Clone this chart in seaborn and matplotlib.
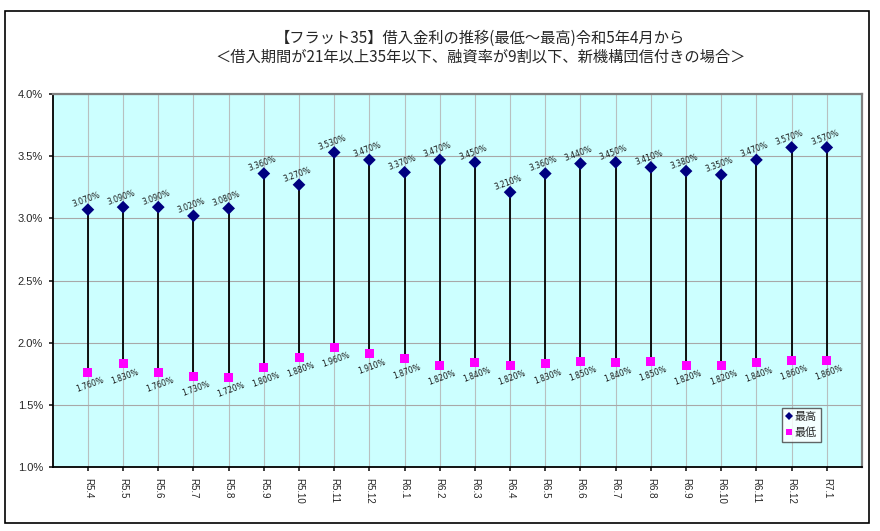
import pandas as pd
import seaborn as sns
import matplotlib.pyplot as plt
from matplotlib.patches import Rectangle
from matplotlib.ticker import FuncFormatter, MultipleLocator

# データ(令和5年4月～令和7年1月)
months = ["R5.4", "R5.5", "R5.6", "R5.7", "R5.8", "R5.9", "R5.10", "R5.11", "R5.12",
          "R6.1", "R6.2", "R6.3", "R6.4", "R6.5", "R6.6", "R6.7", "R6.8", "R6.9",
          "R6.10", "R6.11", "R6.12", "R7.1"]
rate_high = [3.07, 3.09, 3.09, 3.02, 3.08, 3.36, 3.27, 3.53, 3.47,
             3.37, 3.47, 3.45, 3.21, 3.36, 3.44, 3.45, 3.41, 3.38,
             3.35, 3.47, 3.57, 3.57]
rate_low = [1.76, 1.83, 1.76, 1.73, 1.72, 1.80, 1.88, 1.96, 1.91,
            1.87, 1.82, 1.84, 1.82, 1.83, 1.85, 1.84, 1.85, 1.82,
            1.82, 1.84, 1.86, 1.86]

title1 = "【フラット35】借入金利の推移(最低～最高)令和5年4月から"
title2 = "＜借入期間が21年以上35年以下、融資率が9割以下、新機構団信付きの場合＞"

df = pd.DataFrame({
    "月": months * 2,
    "金利": rate_high + rate_low,
    "種別": ["最高"] * len(months) + ["最低"] * len(months),
})

sns.set_theme(style="white")
plt.rcParams["font.family"] = ["Noto Sans CJK JP", "DejaVu Sans"]

fig = plt.figure(figsize=(8.8, 5.31), dpi=100)
ax = fig.add_axes([0.0599, 0.1205, 0.9196, 0.7025])
ax.set_facecolor("#CCFFFF")

# 高低線
ax.vlines(months, rate_low, rate_high, color="black", lw=1.3, zorder=2)

sns.scatterplot(
    data=df, x="月", y="金利", hue="種別", style="種別",
    hue_order=["最高", "最低"], style_order=["最高", "最低"],
    palette={"最高": "#000080", "最低": "#FF00FF"},
    markers={"最高": "D", "最低": "s"},
    s=42, linewidth=0, ax=ax, zorder=3,
)

# データラベル
for i, m in enumerate(months):
    ax.annotate(f"{rate_high[i]:.3f}%", (m, rate_high[i]), xytext=(-1.5, 7),
                textcoords="offset points", ha="center", va="center",
                rotation=20, fontsize=5.5, family="DejaVu Sans", color="#1a1a1a")
    ax.annotate(f"{rate_low[i]:.3f}%", (m, rate_low[i]), xytext=(1.5, -9),
                textcoords="offset points", ha="center", va="center",
                rotation=20, fontsize=5.5, family="DejaVu Sans", color="#1a1a1a")

ax.set_xlim(-1, len(months))
ax.set_ylim(1.0, 4.0)
ax.yaxis.set_major_locator(MultipleLocator(0.5))
ax.yaxis.set_major_formatter(FuncFormatter(lambda v, p: f"{v:.1f}%"))
ax.grid(axis="y", color="#A8A8A8", lw=0.8)
ax.grid(axis="x", color="#B8C0C0", lw=0.8)
ax.set_axisbelow(True)
ax.set_xlabel("")
ax.set_ylabel("")

ax.tick_params(axis="y", labelsize=8, length=3, direction="out", left=True, pad=4)
ax.tick_params(axis="x", labelsize=7, length=3, direction="out", bottom=True,
               labelrotation=270, pad=5)
for t in ax.get_xticklabels() + ax.get_yticklabels():
    t.set_family("Liberation Sans")

for s in ["left", "bottom"]:
    ax.spines[s].set_color("black")
    ax.spines[s].set_linewidth(1.3)
for s in ["top", "right"]:
    ax.spines[s].set_color("#808080")
    ax.spines[s].set_linewidth(1.6)

handles, labels = ax.get_legend_handles_labels()
leg = ax.legend(handles, labels, loc="lower left", bbox_to_anchor=(0.901, 0.067),
                borderaxespad=0, fontsize=8, handlelength=0.6, handletextpad=0.2,
                borderpad=0.35, labelspacing=0.5, frameon=True, fancybox=False,
                markerscale=0.7)
leg.get_frame().set_edgecolor("#404040")
leg.get_frame().set_linewidth(1.0)
leg.get_frame().set_facecolor("white")

fig.text(480 / 880, 1 - 38 / 531, title1, ha="center", va="center", fontsize=11)
fig.text(481 / 880, 1 - 57 / 531, title2, ha="center", va="center", fontsize=11)

# 外枠
fig.patches.append(Rectangle((5 / 880, 1 - 523 / 531), 864 / 880, 512 / 531,
                             transform=fig.transFigure, fill=False,
                             edgecolor="black", lw=1.2))

fig.savefig("out.png", dpi=100)
plt.close(fig)
